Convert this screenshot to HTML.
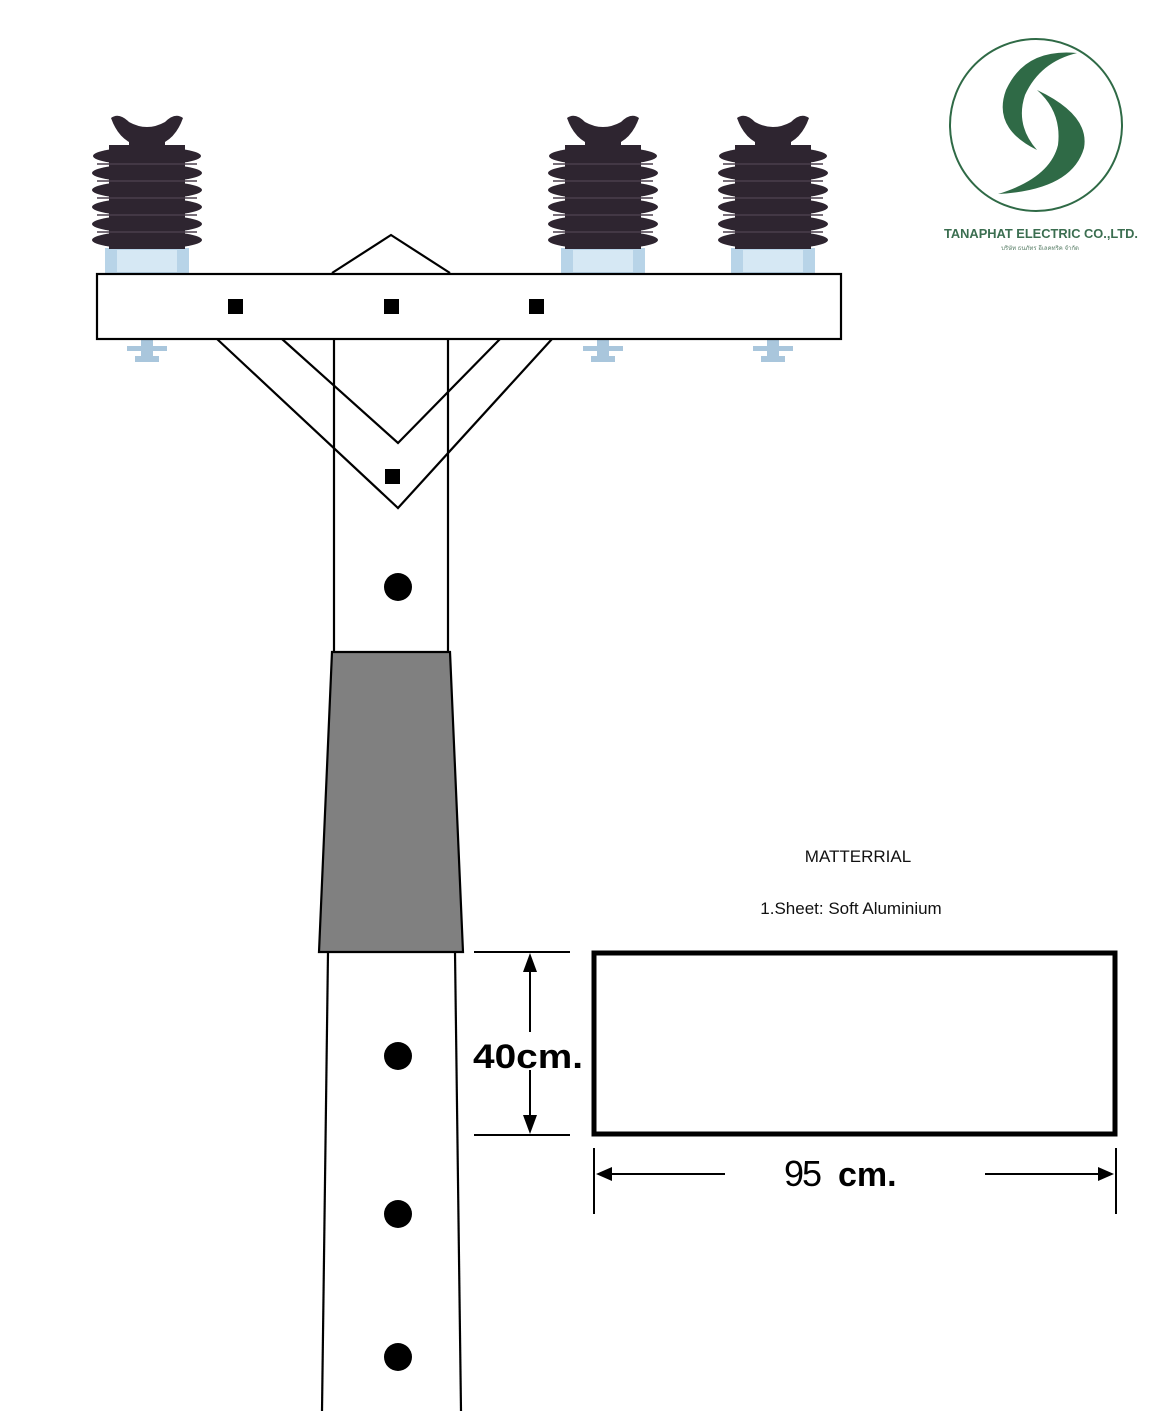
<!DOCTYPE html>
<html><head><meta charset="utf-8"><style>
html,body{margin:0;padding:0;background:#fff;width:1160px;height:1411px;overflow:hidden}
svg{display:block}
</style></head><body>
<svg width="1160" height="1411" viewBox="0 0 1160 1411" xmlns="http://www.w3.org/2000/svg">
<defs>
<g id="ins">
  <rect x="-42" y="248" width="84" height="27" fill="#b8d4e8"/>
  <rect x="-30" y="250" width="60" height="22" fill="#d6e8f4"/>
  <path d="M-36,118 Q-28,112 -18,122 Q0,132 18,122 Q28,112 36,118 Q30,135 18,142 L18,150 L-18,150 L-18,142 Q-30,135 -36,118Z" fill="#2e2530"/>
  <g fill="#2e2530">
    <ellipse cx="0" cy="156" rx="54" ry="9"/>
    <ellipse cx="0" cy="173" rx="55" ry="9"/>
    <ellipse cx="0" cy="190" rx="55" ry="9"/>
    <ellipse cx="0" cy="207" rx="55" ry="9"/>
    <ellipse cx="0" cy="224" rx="55" ry="9"/>
    <ellipse cx="0" cy="240" rx="55" ry="9"/>
    <rect x="-38" y="145" width="76" height="104"/>
  </g>
  <g stroke="#4a3f4c" stroke-width="1.5" fill="none">
    <path d="M-50,164 H50 M-50,181 H50 M-50,198 H50 M-50,215 H50 M-50,232 H50"/>
  </g>
  <g fill="#a9c6dc">
    <rect x="-6" y="340" width="12" height="20"/>
    <rect x="-20" y="346" width="40" height="5"/>
    <rect x="-12" y="356" width="24" height="6"/>
  </g>
</g>
</defs>
<use href="#ins" x="147"/>
<use href="#ins" x="603"/>
<use href="#ins" x="773"/>

<g fill="none" stroke="#000" stroke-width="2.2">
  <polyline points="332,273 391,235 450,273"/>
  <rect x="97" y="274" width="744" height="65" fill="#fff"/>
  <polyline points="217,339 398,508 552,339"/>
  <polyline points="282,339 398,443 500,339"/>
  <line x1="334" y1="339" x2="334" y2="652"/>
  <line x1="448" y1="339" x2="448" y2="652"/>
  <polygon points="332,652 450,652 463,952 319,952" fill="#808080"/>
  <line x1="328" y1="952" x2="322" y2="1411"/>
  <line x1="455" y1="952" x2="461" y2="1411"/>
</g>
<g fill="#000">
  <rect x="228" y="299" width="15" height="15"/>
  <rect x="384" y="299" width="15" height="15"/>
  <rect x="529" y="299" width="15" height="15"/>
  <rect x="385" y="469" width="15" height="15"/>
  <circle cx="398" cy="587" r="14"/>
  <circle cx="398" cy="1056" r="14"/>
  <circle cx="398" cy="1214" r="14"/>
  <circle cx="398" cy="1357" r="14"/>
</g>

<!-- sheet -->
<rect x="594" y="953" width="521" height="181" fill="none" stroke="#000" stroke-width="5"/>
<g stroke="#000" stroke-width="2">
  <line x1="474" y1="952" x2="570" y2="952"/>
  <line x1="474" y1="1135" x2="570" y2="1135"/>
  <line x1="530" y1="960" x2="530" y2="1032"/>
  <line x1="530" y1="1070" x2="530" y2="1128"/>
  <line x1="594" y1="1148" x2="594" y2="1214"/>
  <line x1="1116" y1="1148" x2="1116" y2="1214"/>
  <line x1="600" y1="1174" x2="725" y2="1174"/>
  <line x1="985" y1="1174" x2="1110" y2="1174"/>
</g>
<g fill="#000">
  <polygon points="530,953 523,972 537,972"/>
  <polygon points="530,1134 523,1115 537,1115"/>
  <polygon points="596,1174 612,1167 612,1181"/>
  <polygon points="1114,1174 1098,1167 1098,1181"/>
</g>
<text x="473" y="1068" font-family="Liberation Sans, sans-serif" font-size="34" font-weight="bold" textLength="110" lengthAdjust="spacingAndGlyphs">40cm.</text>
<text x="784" y="1186" font-family="Liberation Sans, sans-serif" font-size="36" letter-spacing="-2">95</text>
<text x="838" y="1186" font-family="Liberation Sans, sans-serif" font-size="34" font-weight="bold">cm.</text>
<text x="858" y="862" text-anchor="middle" font-family="Liberation Sans, sans-serif" font-size="17" fill="#111">MATTERRIAL</text>
<text x="851" y="914" text-anchor="middle" font-family="Liberation Sans, sans-serif" font-size="17" fill="#111">1.Sheet: Soft Aluminium</text>

<!-- logo -->
<circle cx="1036" cy="125" r="86" fill="none" stroke="#2f6a46" stroke-width="2"/>
<path d="M1077,53 Q1025,48 1006,90 Q992,128 1037,150 Q1015,125 1025,95 Q1040,62 1077,53Z" fill="#2f6a46"/>
<path d="M1037,90 Q1090,115 1084,148 Q1072,190 998,194 Q1050,178 1058,145 Q1062,112 1037,90Z" fill="#2f6a46"/>
<text x="1041" y="238" text-anchor="middle" font-family="Liberation Sans, sans-serif" font-size="13" font-weight="bold" fill="#3b6e50" textLength="194" lengthAdjust="spacingAndGlyphs">TANAPHAT ELECTRIC CO.,LTD.</text>
<text x="1040" y="250" text-anchor="middle" font-family="Liberation Sans, sans-serif" font-size="6" fill="#5a7f68">บริษัท ธนภัทร อีเลคทริค จำกัด</text>
</svg>
</body></html>
